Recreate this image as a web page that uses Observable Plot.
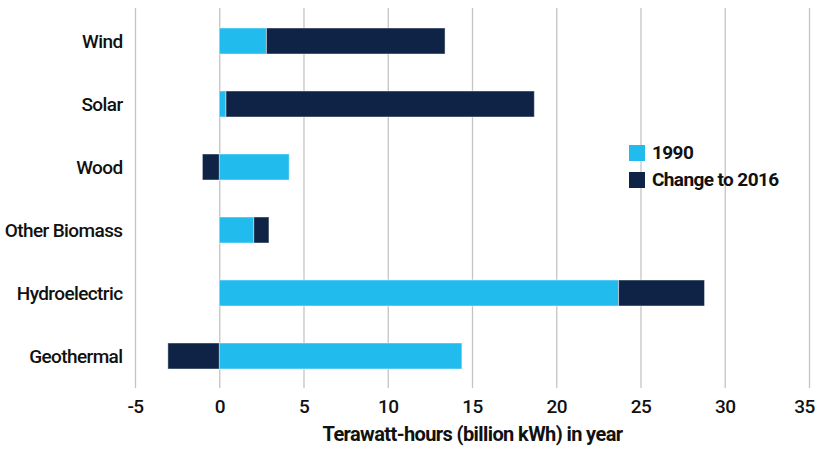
<!DOCTYPE html>
<html>
<head>
<meta charset="utf-8">
<script src="https://cdn.jsdelivr.net/npm/d3@7"></script>
<script src="https://cdn.jsdelivr.net/npm/@observablehq/plot@0.6"></script>
<style>
  html, body { margin: 0; padding: 0; background: #fff; }
  #wrap { position: relative; width: 815px; height: 451px; }
  #wrap, #wrap svg { font-family: Roboto, "Liberation Sans", sans-serif; letter-spacing: -0.6px; }
  #wrap svg g[aria-label="x-axis tick label"] text, #wrap svg g[aria-label="y-axis tick label"] text { font-weight: 500; }
  #legend { position: absolute; left: 629px; top: 140px; font-size: 19px; font-weight: bold; color: #111; line-height: 26.5px; }
  #legend .item { display: flex; align-items: center; }
  #legend .sw { width: 16px; height: 16px; margin-right: 7px; display: inline-block; }
</style>
</head>
<body>
<div id="wrap"></div>
<script>
const categories = ["Wind", "Solar", "Wood", "Other Biomass", "Hydroelectric", "Geothermal"];
const values1990 = [2.8, 0.4, 4.15, 2.05, 23.7, 14.4];
const change2016 = [10.6, 18.3, -1.0, 0.9, 5.1, -3.05];
const seriesNames = ["1990", "Change to 2016"];
const seriesColors = ["#21bbee", "#0f2346"];
const xTicks = [-5, 0, 5, 10, 15, 20, 25, 30, 35];
const xLabel = "Terawatt-hours (billion kWh) in year";

const data = [];
categories.forEach((c, i) => {
  data.push({category: c, series: seriesNames[0], value: values1990[i]});
  data.push({category: c, series: seriesNames[1], value: change2016[i]});
});

const lastTick = xTicks[xTicks.length - 1];
const chart = Plot.plot({
  width: 815,
  height: 451,
  marginTop: 8,
  marginBottom: 63,
  marginLeft: 135,
  marginRight: 6,
  style: {fontSize: "19px", color: "#111", background: "#fff"},
  x: {domain: [-5, 35], ticks: xTicks, tickFormat: d => String(d)},
  y: {domain: categories, paddingInner: 0.59, paddingOuter: 0.28},
  color: {domain: seriesNames, range: seriesColors},
  marks: [
    Plot.gridX(xTicks, {stroke: "#c4c4c4", strokeOpacity: 1, strokeWidth: 1.3}),
    Plot.barX(data, Plot.stackX({
      y: "category", x: "value", fill: "series", order: seriesNames,
      stroke: "#ffffff", strokeOpacity: 0.45, strokeWidth: 1
    })),
    Plot.axisX({ticks: xTicks.slice(0, -1), tickFormat: d => String(d), tickSize: 0, tickPadding: 11, label: null}),
    Plot.axisX({ticks: [lastTick], tickFormat: d => String(d), tickSize: 0, tickPadding: 11, dx: -5, label: null}),
    Plot.axisY({tickSize: 0, tickPadding: 13, label: null}),
    Plot.text([xLabel], {text: d => d, frameAnchor: "bottom", dy: 52, fontWeight: "bold", fontSize: 20, fill: "#111"})
  ]
});
document.getElementById("wrap").appendChild(chart);

const legend = document.createElement("div");
legend.id = "legend";
seriesNames.forEach((s, i) => {
  const it = document.createElement("div");
  it.className = "item";
  const sw = document.createElement("span");
  sw.className = "sw";
  sw.style.background = seriesColors[i];
  it.appendChild(sw);
  it.appendChild(document.createTextNode(s));
  legend.appendChild(it);
});
document.getElementById("wrap").appendChild(legend);
</script>
</body>
</html>
